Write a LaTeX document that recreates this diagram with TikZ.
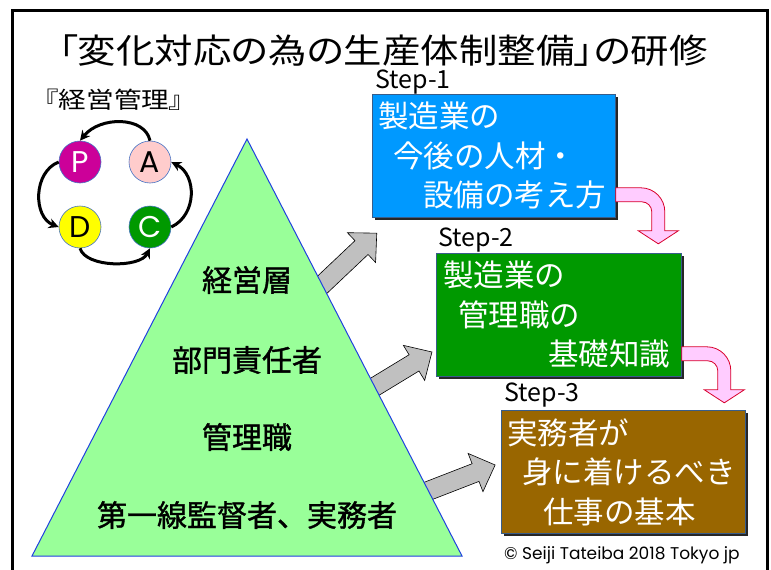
\documentclass[tikz,border=0pt]{standalone}
\usepackage{fontspec}
\setmainfont{Noto Sans CJK JP}
\newfontfamily\jpp[RawFeature=+palt]{Noto Sans CJK JP}
\newfontfamily\jpb[FakeBold=1.2]{Noto Sans CJK JP}
\newfontfamily\geo{Poppins}
\usetikzlibrary{shadows,arrows.meta}
\definecolor{sblue}{HTML}{0099FF}
\definecolor{sgreen}{HTML}{009900}
\definecolor{sbrown}{HTML}{996600}
\definecolor{trigreen}{HTML}{99FF99}
\definecolor{trilne}{HTML}{2040E0}
\definecolor{pmag}{HTML}{CC0099}
\definecolor{apink}{HTML}{FFCCCC}
\definecolor{dyel}{HTML}{FFFF00}
\definecolor{circline}{HTML}{4472C4}
\definecolor{boxline}{HTML}{385D8A}
\definecolor{garrow}{HTML}{C0C0C0}
\definecolor{parrow}{HTML}{FFCCFF}
\definecolor{pline}{HTML}{D8002A}
\tikzset{
  stepbox/.style={draw=boxline, line width=0.8pt, anchor=north west, minimum height=123pt,
    align=left, text=white, font=\fontsize{30.5}{39.5}\selectfont,
    drop shadow={shadow xshift=3pt, shadow yshift=-3pt, opacity=0.85, fill=black}},
  steplabel/.style={anchor=west, inner sep=0pt, font=\fontsize{25}{28}\selectfont},
  trilabel/.style={inner sep=0pt, font=\jpb\fontsize{30}{34}\selectfont},
  pdca/.style={circle, draw=circline, line width=0.6pt, minimum size=42pt, inner sep=0pt,
    font=\geo\fontsize{30}{32}\selectfont},
  pdcaarrow/.style={line width=3pt, -{Stealth[length=10pt,width=10pt]}},
  blockarrow/.style={fill=garrow, draw=black, line width=0.6pt, line join=miter},
  pinkarrow/.style={fill=parrow, draw=pline, line width=0.8pt, line join=miter},
}
\begin{document}
\begin{tikzpicture}[x=1pt,y=-1pt]
\useasboundingbox (0,0) rectangle (771,570);
% frame
\draw[line width=3pt, line join=miter] (12,572) -- (12,10) -- (767,10) -- (767,572);
% title
\node[inner sep=0pt] (title) at (383,51) {\scalebox{1.13}[1]{\jpp\fontsize{34}{38}\selectfont 「変化対応の為の生産体制整備」の研修}};
\node[inner sep=0pt] (mgmt) at (114,100) {\scalebox{1.2}[1]{\jpp\fontsize{23}{26}\selectfont 『経営管理』}};
% PDCA
\node[pdca, fill=pmag, text=white] (P) at (80,162) {P};
\node[pdca, fill=apink] (A) at (150,162) {A};
\node[pdca, fill=dyel] (D) at (80,227) {D};
\node[pdca, fill=sgreen, text=white] (C) at (150,227) {C};
\draw[pdcaarrow] (A.north) .. controls (145,116) and (100,116) .. (P.north);
\draw[pdcaarrow] (P.west) .. controls (33,172) and (33,217) .. (D.west);
\draw[pdcaarrow] (D.south) .. controls (86,268) and (140,268) .. (C.south);
\draw[pdcaarrow] (C.east) .. controls (197,215) and (197,175) .. (A.east);
% gray block arrows
\begin{scope}[shift={(323,284)}, rotate=43.4]
\draw[blockarrow] (-14,-9.5) -- (53,-9.5) -- (53,-20.5) -- (74,0) -- (53,20.5) -- (53,9.5) -- (-14,9.5) -- cycle;
\end{scope}
\begin{scope}[shift={(376,386)}, rotate=31.3]
\draw[blockarrow] (-14,-9.5) -- (44.5,-9.5) -- (44.5,-20.5) -- (65.5,0) -- (44.5,20.5) -- (44.5,9.5) -- (-14,9.5) -- cycle;
\end{scope}
\begin{scope}[shift={(428,491)}, rotate=21.2]
\draw[blockarrow] (-14,-9.5) -- (51,-9.5) -- (51,-20.5) -- (72,0) -- (51,20.5) -- (51,9.5) -- (-14,9.5) -- cycle;
\end{scope}
% triangle
\draw[fill=trigreen, draw=trilne, line width=1pt] (247,139) -- (462,556) -- (32,556) -- cycle;
\node[trilabel] (l1) at (247,280) {経営層};
\node[trilabel] (l2) at (247,360) {部門責任者};
\node[trilabel] (l3) at (247,437) {管理職};
\node[trilabel] (l4) at (247,515) {第一線監督者、実務者};
% step boxes
\node[steplabel] (t1) at (375,82) {Step-1};
\node[stepbox, fill=sblue, inner xsep=6pt, text width=231pt] (s1) at (372,94)
  {製造業の\\\hspace*{15pt}今後の人材・\\\hspace*{45pt}設備の考え方};
\node[steplabel] (t2) at (438,240) {Step-2};
\node[stepbox, fill=sgreen, inner xsep=7pt, text width=231pt] (s2) at (436,253)
  {製造業の\\\hspace*{15pt}管理職の\\\hspace*{105pt}基礎知識};
\node[steplabel] (t3) at (504,395) {Step-3};
\node[stepbox, fill=sbrown, inner xsep=6pt, text width=232pt] (s3) at (501,410)
  {実務者が\\\hspace*{15pt}身に着けるべき\\\hspace*{36pt}仕事の基本};
% pink arrows
\begin{scope}[shift={(s1.south east)}]
\draw[pinkarrow] (0,-30) -- (25,-30) .. controls (38.3,-30) and (49,-19.3) .. (49,-6) -- (49,13)
  -- (62.5,13) -- (42.5,26) -- (22.5,13) -- (36,13) -- (36,-6)
  .. controls (36,-11.5) and (31.5,-16) .. (26,-16) -- (0,-16) -- cycle;
\end{scope}
\begin{scope}[shift={(s2.south east)}]
\draw[pinkarrow] (0,-30) -- (25,-30) .. controls (38.3,-30) and (49,-19.3) .. (49,-6) -- (49,13)
  -- (62.5,13) -- (42.5,26) -- (22.5,13) -- (36,13) -- (36,-6)
  .. controls (36,-11.5) and (31.5,-16) .. (26,-16) -- (0,-16) -- cycle;
\end{scope}
% copyright
\node[anchor=west, inner sep=0pt] (copy) at (504,555) {\geo\fontsize{17}{20}\selectfont © Seiji Tateiba 2018 Tokyo jp};
\end{tikzpicture}
\end{document}
